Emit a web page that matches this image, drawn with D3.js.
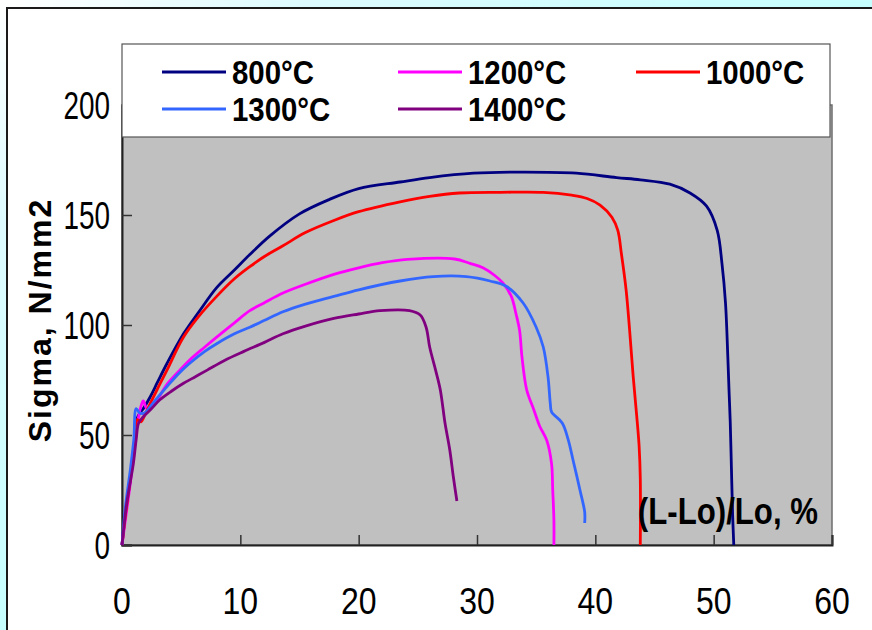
<!DOCTYPE html>
<html>
<head>
<meta charset="utf-8">
<script src="https://cdn.jsdelivr.net/npm/d3@7"></script>
<style>
  html, body { margin: 0; padding: 0; }
  body { width: 872px; height: 630px; overflow: hidden; }
  svg { display: block; }
  text { font-family: "Liberation Sans", Arial, sans-serif; }
</style>
</head>
<body>
<svg id="chart" width="872" height="630"></svg>
<script>
// Tensile curves: engineering strain (%) vs stress (N/mm2) at five temperatures
const seriesNames = ["800°C", "1200°C", "1000°C", "1300°C", "1400°C"];
const seriesColors = ["#000080", "#ff00ff", "#ff0000", "#3366ff", "#800080"];

const strain800 = [0, 0.3, 0.7, 1.0, 1.25, 1.5, 1.8, 2.4, 3.0, 3.8, 5.2, 6.5, 8.0, 9.5, 10.8, 12.5, 15.0, 17.5, 20.0, 23.5, 26, 29.7, 34, 38.4, 41.8, 43.8, 46.3, 48.0, 49.4, 50.3, 50.7, 51.0, 51.2, 51.3, 51.4, 51.5, 51.6, 51.7];
const stress800 = [0, 15, 30, 44, 57, 60, 62, 67.5, 74, 82.5, 96, 106, 117, 125, 132, 140.5, 150.5, 157, 162, 165, 167, 169, 169.5, 169, 167, 166, 164, 160, 154, 143, 128, 110, 85, 70, 56, 35, 14, 0];

const strain1000 = [0, 0.3, 0.7, 1.0, 1.3, 1.6, 2.0, 2.4, 3.0, 3.8, 5.2, 6.5, 8.0, 9.5, 10.8, 12, 13.6, 15.5, 17.9, 20, 23.5, 26, 28.5, 32, 35.6, 38, 39.3, 40.4, 41.4, 41.9, 42.2, 42.6, 42.9, 43.2, 43.5, 43.7, 43.8, 43.8];
const stress1000 = [0, 14, 30, 44, 57, 56, 60, 64.5, 71, 79.5, 94.5, 104, 113, 121, 126.5, 131, 136, 142, 147.5, 151.5, 156, 158.5, 160, 160.3, 160.3, 159, 157.5, 154.5, 149, 143, 132.5, 116, 97.5, 76.5, 58.5, 45, 30, 0];

const strain1200 = [0, 0.3, 0.7, 1.0, 1.3, 1.6, 1.8, 2.1, 2.6, 3.0, 3.8, 4.8, 5.7, 7, 8.0, 9.5, 10.8, 12, 13.6, 15.5, 17.9, 20, 22, 24.1, 28.1, 29.4, 30.5, 31.5, 32.2, 32.9, 33.3, 33.6, 33.8, 34.2, 34.8, 35.3, 35.9, 36.3, 36.4, 36.5, 36.5];
const stress1200 = [0, 12, 28, 42, 55, 63, 65.5, 62, 63, 66, 73, 79, 84, 90, 94.5, 101, 106.5, 110, 114.5, 118.5, 123, 126, 128.3, 129.8, 130, 128, 126, 122.5, 119, 113, 105, 97.5, 85.5, 70.5, 61.5, 54, 47.5, 37, 25, 11, 0];

const strain1300 = [0, 0.3, 0.7, 1.0, 1.2, 1.5, 1.9, 2.4, 3.0, 3.8, 4.8, 5.7, 7, 8.0, 9.5, 10.8, 12, 13.6, 15.5, 17.9, 20, 23.5, 26.3, 29.1, 31.1, 32.5, 33.9, 35.0, 35.6, 36.0, 36.2, 36.3, 37.2, 37.7, 38.1, 38.7, 39.1, 39.1];
const stress1300 = [0, 18, 34, 48, 62, 60, 60, 63, 67, 72, 78, 82.5, 88, 91.5, 96, 99, 102, 106, 109.5, 113, 116, 120, 122, 122, 120, 117.5, 110, 99, 90, 76.5, 64, 60.5, 55.5, 48, 39, 25, 15, 10];

const strain1400 = [0, 0.4, 0.96, 1.2, 1.4, 1.8, 2.5, 3.2, 4.2, 5.2, 6.2, 7.2, 8.7, 10.3, 12, 13.6, 15.5, 17.9, 20, 21.8, 24.3, 25.2, 25.7, 26.0, 26.5, 26.9, 27.3, 27.7, 28.0, 28.3];
const stress1400 = [0, 19, 37, 48, 55.3, 58.3, 62, 66, 70, 73.5, 76.5, 79.5, 84, 88, 92, 96, 99.5, 103, 105, 106.5, 106.5, 104.5, 99, 90, 79.5, 70.5, 55.3, 43.2, 31, 20];

const xTicks = [0, 10, 20, 30, 40, 50, 60];
const yTicks = [0, 50, 100, 150, 200];

const curves = [
  { name: "800°C",  x: strain800,  y: stress800 },
  { name: "1200°C", x: strain1200, y: stress1200 },
  { name: "1000°C", x: strain1000, y: stress1000 },
  { name: "1300°C", x: strain1300, y: stress1300 },
  { name: "1400°C", x: strain1400, y: stress1400 }
];

const svg = d3.select("#chart");

// page backdrop and the white chart panel
const defs = svg.append("defs");
const grad = defs.append("radialGradient").attr("id", "bg")
  .attr("cx", 0).attr("cy", 0).attr("r", 1).attr("gradientUnits", "objectBoundingBox");
grad.append("stop").attr("offset", "0%").attr("stop-color", "#ffffff");
grad.append("stop").attr("offset", "35%").attr("stop-color", "#ddfbff");
grad.append("stop").attr("offset", "100%").attr("stop-color", "#c6ffff");
svg.append("rect").attr("width", 872).attr("height", 630).attr("fill", "url(#bg)");
svg.append("rect").attr("x", 7).attr("y", 8).attr("width", 880).attr("height", 640)
  .attr("fill", "#ffffff").attr("stroke", "#1a1a1a").attr("stroke-width", 2);

const plot = { left: 122, right: 832, top: 105, bottom: 545 };
const x = d3.scaleLinear().domain([0, 60]).range([plot.left, plot.right]);
const y = d3.scaleLinear().domain([0, 200]).range([plot.bottom, plot.top]);

// plot background
svg.append("rect")
  .attr("x", x(0)).attr("y", y(200))
  .attr("width", x(60) - x(0)).attr("height", y(0) - y(200))
  .attr("fill", "#c0c0c0").attr("stroke", "#6e6e6e").attr("stroke-width", 1.5);

// axes with inward ticks
const xAxis = d3.axisBottom(x).tickValues(xTicks).tickSize(-10).tickFormat("");
const yAxis = d3.axisLeft(y).tickValues(yTicks).tickSize(-10).tickFormat("");
const gx = svg.append("g").attr("transform", `translate(0,${y(0)})`).call(xAxis);
const gy = svg.append("g").attr("transform", `translate(${x(0)},0)`).call(yAxis);
[gx, gy].forEach(g => {
  g.select(".domain").attr("stroke", "#222").attr("stroke-width", 2);
  g.selectAll(".tick line").attr("stroke", "#333").attr("stroke-width", 1.5);
});

// tick labels (tall, slightly condensed glyphs)
svg.append("g").selectAll("text").data(xTicks).join("text")
  .attr("transform", d => `translate(${x(d)},614) scale(1,1.15)`)
  .attr("text-anchor", "middle")
  .attr("font-size", 32).attr("fill", "#000")
  .text(d => d);
svg.append("g").selectAll("text").data(yTicks).join("text")
  .attr("transform", d => `translate(110,${y(d)}) scale(0.9,1.25)`)
  .attr("dy", "0.36em")
  .attr("text-anchor", "end")
  .attr("font-size", 31).attr("fill", "#000")
  .text(d => d);

// curves
const line = d3.line()
  .x(d => x(d[0])).y(d => y(d[1]))
  .curve(d3.curveCatmullRom.alpha(0.5));
svg.append("g").selectAll("path").data(curves).join("path")
  .attr("d", c => line(c.x.map((v, i) => [v, c.y[i]])))
  .attr("fill", "none")
  .attr("stroke", c => seriesColors[seriesNames.indexOf(c.name)])
  .attr("stroke-width", 2.8)
  .attr("stroke-linejoin", "round");

// axis titles
svg.append("text")
  .attr("transform", "translate(51,320) rotate(-90)")
  .attr("text-anchor", "middle")
  .attr("font-size", 32).attr("font-weight", "bold")
  .attr("letter-spacing", 2)
  .text("Sigma, N/mm2");
svg.append("text")
  .attr("transform", "translate(818,524) scale(1.04,1.25)")
  .attr("text-anchor", "end")
  .attr("font-size", 30).attr("font-weight", "bold")
  .text("(L-Lo)/Lo, %");

// legend
const legend = svg.append("g");
legend.append("rect").attr("x", 122).attr("y", 44).attr("width", 708).attr("height", 93)
  .attr("fill", "#ffffff").attr("stroke", "#555").attr("stroke-width", 1.2);
const legendCols = [162, 398, 636];
const legendRows = [72, 109];
const items = legend.selectAll("g.item").data(seriesNames).join("g")
  .attr("transform", (d, i) => `translate(${legendCols[i % 3]},${legendRows[Math.floor(i / 3)]})`);
items.append("line").attr("x1", 0).attr("x2", 64).attr("y1", 0).attr("y2", 0)
  .attr("stroke", (d, i) => seriesColors[i]).attr("stroke-width", 3);
items.append("text")
  .attr("transform", "translate(70,0) scale(1.05,1.2)")
  .attr("dy", "0.36em")
  .attr("font-size", 28).attr("font-weight", "bold")
  .text(d => d);
</script>
</body>
</html>
